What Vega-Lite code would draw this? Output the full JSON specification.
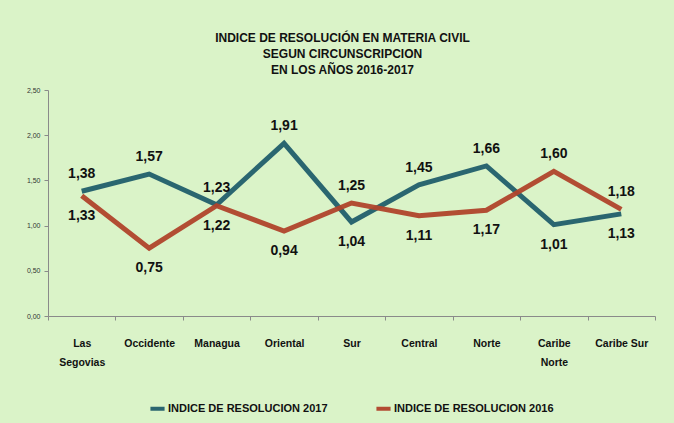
{
  "$schema": "https://vega.github.io/schema/vega-lite/v6.json",
  "autosize": {"type": "none"},
  "padding": {"left": 48, "top": 90, "right": 19, "bottom": 107},
  "width": 607,
  "height": 226,
  "background": "#daf3c8",
  "title": {
    "text": ["INDICE DE RESOLUCIÓN  EN MATERIA CIVIL", "SEGUN CIRCUNSCRIPCION", "EN LOS AÑOS 2016-2017"],
    "font": "Liberation Sans, sans-serif",
    "fontSize": 12,
    "fontWeight": "bold",
    "color": "#111111",
    "lineHeight": 16,
    "anchor": "middle",
    "dx": -9,
    "offset": 9
  },
  "config": {
    "view": {"stroke": null},
    "font": "Liberation Sans, sans-serif"
  },
  "data": {
    "values": [
      {"cat": "Las|Segovias", "serie": "INDICE DE RESOLUCION 2017", "valor": 1.38},
      {"cat": "Occidente", "serie": "INDICE DE RESOLUCION 2017", "valor": 1.57},
      {"cat": "Managua", "serie": "INDICE DE RESOLUCION 2017", "valor": 1.23},
      {"cat": "Oriental", "serie": "INDICE DE RESOLUCION 2017", "valor": 1.91},
      {"cat": "Sur", "serie": "INDICE DE RESOLUCION 2017", "valor": 1.04},
      {"cat": "Central", "serie": "INDICE DE RESOLUCION 2017", "valor": 1.45},
      {"cat": "Norte", "serie": "INDICE DE RESOLUCION 2017", "valor": 1.66},
      {"cat": "Caribe|Norte", "serie": "INDICE DE RESOLUCION 2017", "valor": 1.01},
      {"cat": "Caribe Sur", "serie": "INDICE DE RESOLUCION 2017", "valor": 1.13},
      {"cat": "Las|Segovias", "serie": "INDICE DE RESOLUCION 2016", "valor": 1.33},
      {"cat": "Occidente", "serie": "INDICE DE RESOLUCION 2016", "valor": 0.75},
      {"cat": "Managua", "serie": "INDICE DE RESOLUCION 2016", "valor": 1.22},
      {"cat": "Oriental", "serie": "INDICE DE RESOLUCION 2016", "valor": 0.94},
      {"cat": "Sur", "serie": "INDICE DE RESOLUCION 2016", "valor": 1.25},
      {"cat": "Central", "serie": "INDICE DE RESOLUCION 2016", "valor": 1.11},
      {"cat": "Norte", "serie": "INDICE DE RESOLUCION 2016", "valor": 1.17},
      {"cat": "Caribe|Norte", "serie": "INDICE DE RESOLUCION 2016", "valor": 1.60},
      {"cat": "Caribe Sur", "serie": "INDICE DE RESOLUCION 2016", "valor": 1.18}
    ]
  },
  "transform": [
    {"joinaggregate": [{"op": "max", "field": "valor", "as": "maxv"}], "groupby": ["cat"]},
    {"calculate": "datum.valor == datum.maxv", "as": "arriba"},
    {"calculate": "replace(format(datum.valor, '.2f'), '.', ',')", "as": "etiqueta"}
  ],
  "encoding": {
    "x": {
      "field": "cat",
      "type": "nominal",
      "sort": null,
      "bandPosition": 0.5,
      "scale": {"type": "band", "paddingInner": 0, "paddingOuter": 0},
      "axis": {
        "title": null,
        "labelAngle": 0,
        "labelExpr": "split(datum.label, '|')",
        "labelFontSize": 10.5,
        "labelFontWeight": "bold",
        "labelColor": "#111111",
        "labelPadding": 18,
        "labelLineHeight": 19,
        "tickBand": "extent",
        "tickSize": 4,
        "tickColor": "#8a8a8a",
        "domainColor": "#8a8a8a",
        "labelBaseline": "top"
      }
    },
    "y": {
      "field": "valor",
      "type": "quantitative",
      "scale": {"domain": [0, 2.5]},
      "axis": {
        "title": null,
        "values": [0, 0.5, 1, 1.5, 2, 2.5],
        "labelExpr": "replace(format(datum.value, '.2f'), '.', ',')",
        "labelFontSize": 7,
        "labelColor": "#333333",
        "grid": false,
        "tickSize": 4,
        "tickColor": "#8a8a8a",
        "domainColor": "#8a8a8a",
        "labelPadding": 4
      }
    },
    "color": {
      "field": "serie",
      "type": "nominal",
      "scale": {
        "domain": ["INDICE DE RESOLUCION 2017", "INDICE DE RESOLUCION 2016"],
        "range": ["#215e6b", "#b0432b"]
      },
      "legend": {
        "title": null,
        "orient": "none",
        "direction": "horizontal",
        "legendX": 100,
        "legendY": 309,
        "symbolType": "stroke",
        "symbolStrokeWidth": 4,
        "symbolSize": 200,
        "labelFontSize": 11,
        "labelFontWeight": "bold",
        "labelColor": "#111111",
        "columnPadding": 40,
        "labelOffset": 1,
        "labelLimit": 300
      }
    }
  },
  "layer": [
    {
      "mark": {"type": "line", "strokeWidth": 5, "strokeJoin": "miter", "opacity": 0.95}
    },
    {
      "transform": [{"filter": "datum.arriba"}],
      "mark": {"type": "text", "dy": -17, "fontSize": 14, "fontWeight": "bold"},
      "encoding": {"text": {"field": "etiqueta"}, "color": {"value": "#111111"}}
    },
    {
      "transform": [{"filter": "!datum.arriba"}],
      "mark": {"type": "text", "dy": 20, "fontSize": 14, "fontWeight": "bold"},
      "encoding": {"text": {"field": "etiqueta"}, "color": {"value": "#111111"}}
    }
  ]
}
